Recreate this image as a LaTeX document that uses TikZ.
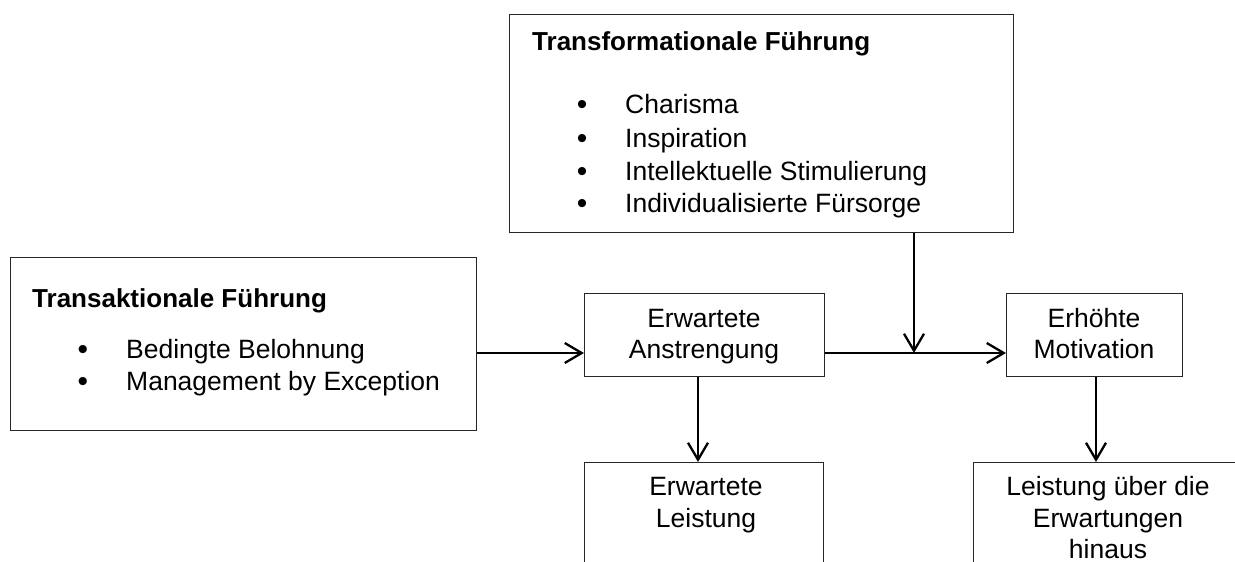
\documentclass[tikz,border=0pt]{standalone}
\usepackage{fontspec}
\setmainfont{Liberation Sans}
\usetikzlibrary{arrows.meta}
\begin{document}
\begin{tikzpicture}[x=1pt,y=-1pt,
  box/.style={draw=black!85, line width=1.4pt, rectangle, inner sep=0pt, anchor=north west},
  txt/.style={font=\fontsize{26.5}{31.5}\selectfont, inner sep=0pt, anchor=base},
  head/.style={font=\fontsize{26}{31}\selectfont\bfseries, inner sep=0pt, anchor=base west},
  item/.style={txt, anchor=base west},
  bul/.style={txt, anchor=base, font=\fontsize{30}{31.5}\selectfont},
  conn/.style={line width=2.3pt, -{Straight Barb[length=17pt,width=20pt,line width=2.3pt]}}]
\useasboundingbox (0,0) rectangle (1235,562);
\clip (0,0) rectangle (1235,562);

% boxes
\node[box, minimum width=504, minimum height=218] (trf) at (509,14) {};
\node[box, minimum width=466, minimum height=173] (trn) at (10,257) {};
\node[box, minimum width=240, minimum height=83] (anst) at (584,293) {};
\node[box, minimum width=176, minimum height=83] (mot) at (1006,293) {};
\node[box, minimum width=239, minimum height=140] (lst) at (584,462) {};
\node[box, minimum width=290, minimum height=140] (ueb) at (973,462) {};

% transformational box text
\node[head] (trfh) at (532,50) {Transformationale Führung};
\node[bul] (tb1) at (582,114) {\textbullet};
\node[item] (ti1) at (625,113) {Charisma};
\node[bul] (tb2) at (582,148) {\textbullet};
\node[item] (ti2) at (625,147) {Inspiration};
\node[bul] (tb3) at (582,181) {\textbullet};
\node[item] (ti3) at (625,180) {Intellektuelle Stimulierung};
\node[bul] (tb4) at (582,213) {\textbullet};
\node[item] (ti4) at (625,212) {Individualisierte Fürsorge};

% transactional box text
\node[head] (trnh) at (32,307) {Transaktionale Führung};
\node[bul] (nb1) at (83,359) {\textbullet};
\node[item] (ni1) at (126,358) {Bedingte Belohnung};
\node[bul] (nb2) at (83,391) {\textbullet};
\node[item] (ni2) at (126,390) {Management by Exception};

% small boxes text
\node[txt] (anst1) at (704,327) {Erwartete};
\node[txt] (anst2) at (704,358) {Anstrengung};
\node[txt] (mot1) at (1094,327) {Erhöhte};
\node[txt] (mot2) at (1094,358) {Motivation};
\node[txt] (lst1) at (706,495) {Erwartete};
\node[txt] (lst2) at (706,527) {Leistung};
\node[txt] (ueb1) at (1108,495) {Leistung über die};
\node[txt] (ueb2) at (1108,527) {Erwartungen};
\node[txt] (ueb3) at (1108,558) {hinaus};

% connectors
\coordinate (row) at (0,353);
\coordinate (j) at (914,353);
\coordinate (dl) at (698,0);
\coordinate (dr) at (1096,0);
\draw[conn] (trn.east |- row) -- (anst.west |- row);
\draw[conn] (anst.east |- row) -- (mot.west |- row);
\draw[conn] (trf.south -| j) -- (j);
\draw[conn] (anst.south -| dl) -- (lst.north -| dl);
\draw[conn] (mot.south -| dr) -- (ueb.north -| dr);
\end{tikzpicture}
\end{document}
